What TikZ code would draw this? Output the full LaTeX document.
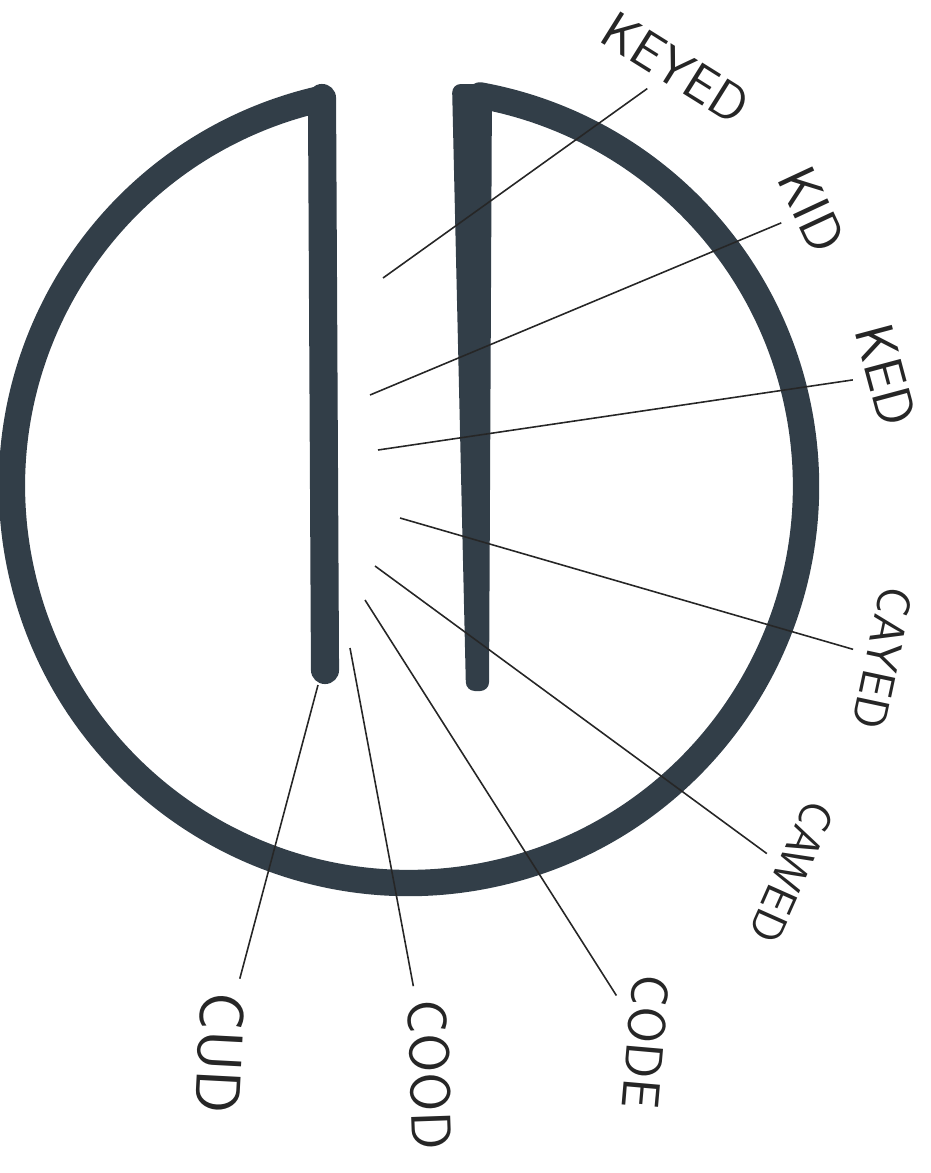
\documentclass[tikz,border=0pt]{standalone}
\usepackage{fontspec}
\usepackage{tikz}
\usetikzlibrary{arrows.meta,positioning}
\definecolor{ink}{RGB}{50,62,72}
\definecolor{pen}{RGB}{38,38,38}

\begin{document}
\begin{tikzpicture}[x=0.02cm,y=-0.02cm,
  marker/.style={draw=ink,line width=15pt,line cap=round,line join=round},
  lab/.style={font=\sffamily\fontsize{#1}{#1}\selectfont
  \addfontfeature{FakeStretch=0.86,LetterSpace=12},text=pen,inner sep=8pt},
  lab/.default=31, lead/.style={draw=pen,line width=0.9pt}]
  \useasboundingbox (0,0) rectangle (930,1173);
  \draw[marker] (321.7,98.7) arc[start angle=257.3,end angle=-79.7,radius=397];
  \draw[marker,line width=16pt] (322,98) -- (325,670); \fill[ink,rounded
  corners=5pt] (452,84) -- (492,84) -- (489,691) -- (466,691) -- cycle;
  \node[lab=30,rotate=-32] (keyed) at (676,68) {KEYED}; \node[lab,rotate=-65]
  (kid) at (812,210) {KID}; \node[lab,rotate=-75] (ked) at (886,375) {KED};
  \node[lab=27,rotate=-102] (cayed) at (883,658) {CAYED};
  \node[lab=26,rotate=-114] (cawed) at (792,872) {CAWED};
  \node[lab=30,rotate=-95] (code) at (646,1042) {CODE}; \node[lab=32,rotate=-88]
  (cood) at (430,1075) {COOD}; \node[lab=36,rotate=-93] (cud) at (220,1053)
  {CUD}; \coordinate (keyed-p) at (383,278); \coordinate (kid-p) at
  (370,395); \coordinate (ked-p) at (378,450); \coordinate (cayed-p) at
  (400,518); \coordinate (cawed-p) at (375,566); \coordinate (code-p) at
  (365,600); \coordinate (cood-p) at (350,648); \coordinate (cud-p) at
  (318,685); \draw[lead] (keyed-p) -- (keyed); \draw[lead] (kid-p) -- (kid);
  \draw[lead] (ked-p) -- (ked); \draw[lead] (cayed-p) -- (cayed); \draw[lead]
  (cawed-p) -- (cawed); \draw[lead] (code-p) -- (code); \draw[lead] (cood-p)
  -- (cood); \draw[lead] (cud-p) -- (cud);
\end{tikzpicture}
\end{document}
